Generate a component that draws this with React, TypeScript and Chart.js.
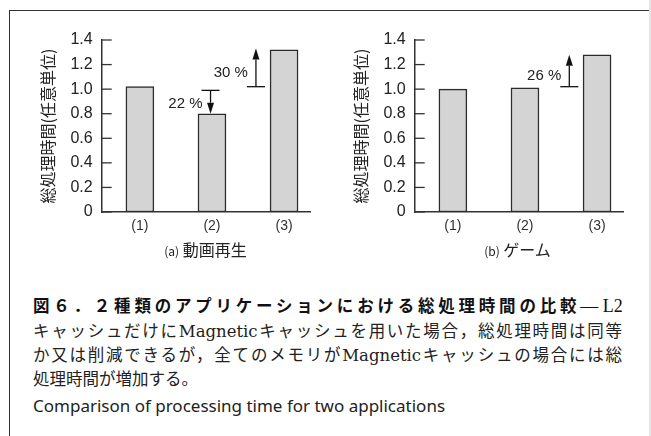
import React, { useEffect, useRef } from 'react';
import { Chart, registerables } from 'chart.js';

Chart.register(...registerables);

// ---- data ----
const categories = ['(1)', '(2)', '(3)'];
const videoValues = [1.02, 0.8, 1.32];
const gameValues = [1.0, 1.01, 1.28];
const yTickLabels = ['0', '0.2', '0.4', '0.6', '0.8', '1.0', '1.2', '1.4'];
const yTitle = '総処理時間(任意単位)';
const videoNotes = [
  { label: '22 %', at: 1.98, from: 0.99, to: 0.8, textAt: 0.88 },
  { label: '30 %', at: 2.61, from: 1.02, to: 1.33, textAt: 1.13 },
];
const gameNotes = [{ label: '26 %', at: 2.615, from: 1.02, to: 1.28, textAt: 1.105 }];

const captionTitle = '図６．２種類のアプリケーションにおける総処理時間の比較';
const captionLines = [
  'キャッシュだけにMagneticキャッシュを用いた場合，総処理時間は同等',
  'か又は削減できるが，全てのメモリがMagneticキャッシュの場合には総',
  '処理時間が増加する。',
];
const englishCaption = 'Comparison of processing time for two applications';

type Note = { label: string; at: number; from: number; to: number; textAt: number };

function makeDecor(notes: Note[]) {
  return {
    id: 'decor',
    afterDatasetsDraw(chart: any) {
      const { ctx, scales } = chart;
      const x = scales.x;
      const y = scales.y;
      ctx.save();
      ctx.strokeStyle = '#333';
      ctx.lineWidth = 1.3;
      y.ticks.forEach((t: any) => {
        const py = y.getPixelForValue(t.value);
        ctx.beginPath();
        ctx.moveTo(x.left, py);
        ctx.lineTo(x.left + 10, py);
        ctx.stroke();
      });
      notes.forEach((n) => {
        const px = x.getPixelForValue(n.at);
        const pFrom = y.getPixelForValue(n.from);
        const pTo = y.getPixelForValue(n.to);
        ctx.strokeStyle = '#111';
        ctx.fillStyle = '#111';
        ctx.lineWidth = 1.3;
        ctx.beginPath();
        ctx.moveTo(px - 9, pFrom);
        ctx.lineTo(px + 9, pFrom);
        ctx.stroke();
        const dir = pTo < pFrom ? -1 : 1;
        const head = 11;
        ctx.beginPath();
        ctx.moveTo(px, pFrom);
        ctx.lineTo(px, pTo - dir * head);
        ctx.stroke();
        ctx.beginPath();
        ctx.moveTo(px, pTo);
        ctx.lineTo(px - 3.5, pTo - dir * head);
        ctx.lineTo(px + 3.5, pTo - dir * head);
        ctx.closePath();
        ctx.fill();
        ctx.font = '15px "Liberation Sans", Arial, sans-serif';
        ctx.textAlign = 'right';
        ctx.textBaseline = 'middle';
        ctx.fillStyle = '#222';
        ctx.fillText(n.label, px - 8, y.getPixelForValue(n.textAt));
      });
      ctx.restore();
    },
  };
}

function BarPanel({ values, notes, left }: { values: number[]; notes: Note[]; left: number }) {
  const ref = useRef<HTMLCanvasElement | null>(null);
  useEffect(() => {
    if (!ref.current) return;
    const chart = new Chart(ref.current, {
      type: 'bar',
      data: {
        datasets: [
          {
            data: values.map((v, i) => ({ x: i + 1, y: v })),
            backgroundColor: '#d4d4d4',
            borderColor: '#2b2b2b',
            borderWidth: 1.5,
            borderSkipped: false,
            barThickness: 28,
          } as any,
        ],
      },
      options: {
        animation: false,
        responsive: false,
        devicePixelRatio: 1,
        layout: { padding: { top: 20, right: 10, bottom: 2, left: 0 } },
        plugins: { legend: { display: false }, tooltip: { enabled: false } },
        scales: {
          x: {
            type: 'linear',
            min: 0.47,
            max: 3.36,
            offset: false,
            grid: { display: false, drawTicks: false },
            border: { display: true, color: '#333', width: 1.5 },
            afterBuildTicks: (s: any) => {
              s.ticks = categories.map((_, i) => ({ value: i + 1 }));
            },
            afterFit: (s: any) => {
              s.height = 28;
            },
            ticks: {
              autoSkip: false,
              maxRotation: 0,
              padding: 6,
              color: '#333',
              font: { family: '"Liberation Sans", Arial, sans-serif', size: 14 },
              callback: (v: any) => categories[Math.round(Number(v)) - 1] ?? '',
            },
          },
          y: {
            min: 0,
            max: 1.4,
            grid: { display: false, drawTicks: false },
            border: { display: true, color: '#333', width: 1.5 },
            afterBuildTicks: (s: any) => {
              s.ticks = yTickLabels.map((_, i) => ({ value: i * 0.2 }));
            },
            afterFit: (s: any) => {
              s.width = 81.7;
            },
            ticks: {
              padding: 9,
              color: '#222',
              font: { family: '"Liberation Sans", Arial, sans-serif', size: 16 },
              callback: (_v: any, i: number) => yTickLabels[i],
            },
            title: {
              display: true,
              text: yTitle,
              color: '#222',
              font: { family: '"Noto Sans CJK JP", sans-serif', size: 16 },
              padding: { top: 18.5, bottom: 0 },
            },
          },
        } as any,
      },
      plugins: [makeDecor(notes)],
    });
    return () => chart.destroy();
  }, []);
  return (
    <canvas
      ref={ref}
      width={300}
      height={222}
      style={{ position: 'absolute', left, top: 20, width: 300, height: 222 }}
    />
  );
}

const jp = '"Noto Sans CJK JP", sans-serif';
const bodyFont = '"DejaVu Serif", "Noto Sans CJK JP", serif';

export default function App() {
  return (
    <div
      style={{
        position: 'absolute',
        left: 0,
        top: 0,
        width: 651,
        height: 436,
        background: '#fff',
        overflow: 'hidden',
      }}
    >
      <div
        style={{
          position: 'absolute',
          left: 9,
          top: 10,
          width: 700,
          height: 500,
          borderTop: '1.5px solid #333',
          borderLeft: '1.5px solid #333',
        }}
      />
      <div style={{ position: 'absolute', left: 649, top: 0, width: 1.5, height: 436, background: '#e6e6e6' }} />
      <BarPanel values={videoValues} notes={videoNotes} left={20} />
      <BarPanel values={gameValues} notes={gameNotes} left={333} />
      <div
        style={{
          position: 'absolute',
          left: 105.5,
          top: 239,
          width: 200,
          textAlign: 'center',
          lineHeight: '20px',
          fontFamily: jp,
          color: '#222',
          whiteSpace: 'nowrap',
        }}
      >
        <span style={{ fontSize: 12 }}>(a)</span> <span style={{ fontSize: 16 }}>動画再生</span>
      </div>
      <div
        style={{
          position: 'absolute',
          left: 417.5,
          top: 239,
          width: 200,
          textAlign: 'center',
          lineHeight: '20px',
          fontFamily: jp,
          color: '#222',
          whiteSpace: 'nowrap',
        }}
      >
        <span style={{ fontSize: 12 }}>(b)</span> <span style={{ fontSize: 16 }}>ゲーム</span>
      </div>
      <div
        style={{
          position: 'absolute',
          left: 33,
          top: 294,
          lineHeight: '22px',
          whiteSpace: 'nowrap',
          color: '#111',
        }}
      >
        <span style={{ fontFamily: jp, fontWeight: 700, fontSize: 16.5, letterSpacing: 3.78 }}>{captionTitle}</span>
        <span style={{ fontFamily: '"Liberation Serif", serif', fontSize: 18 }}>— L2</span>
      </div>
      {captionLines.map((line, i) => (
        <div
          key={i}
          style={{
            position: 'absolute',
            left: 33,
            top: 322 + i * 24,
            width: 589,
            lineHeight: '20px',
            fontFamily: bodyFont,
            fontSize: 16.5,
            color: '#222',
            whiteSpace: 'nowrap',
            textAlign: i < captionLines.length - 1 ? 'justify' : 'left',
            textAlignLast: i < captionLines.length - 1 ? 'justify' : 'left',
          } as any}
        >
          {line}
        </div>
      ))}
      <div
        style={{
          position: 'absolute',
          left: 33,
          top: 396,
          lineHeight: '20px',
          fontFamily: '"Noto Sans", "Liberation Sans", sans-serif',
          fontSize: 17,
          color: '#222',
          whiteSpace: 'nowrap',
        }}
      >
        {englishCaption}
      </div>
    </div>
  );
}
